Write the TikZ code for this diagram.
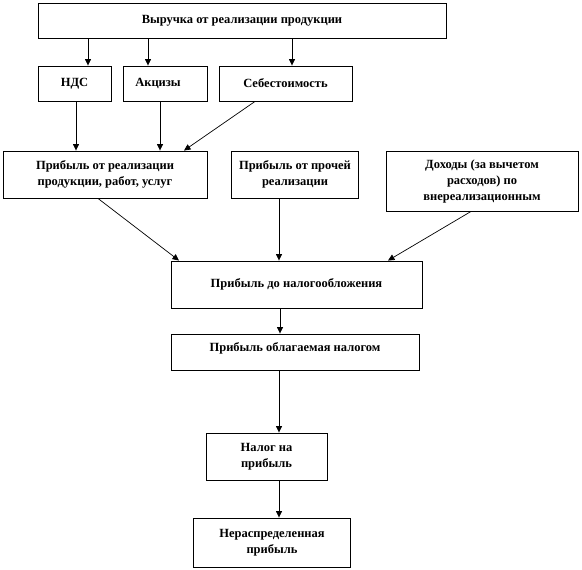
\documentclass[tikz,border=0pt]{standalone}
\usepackage{fontspec}
\setmainfont{Liberation Serif}
\usepackage{tikz}
\usetikzlibrary{positioning,calc,arrows.meta}

\begin{document}
\begin{tikzpicture}[x=1pt, y=-1pt,
  box/.style={rectangle, draw=black, line width=0.9pt, fill=white, inner sep=2pt, align=center, font=\bfseries\fontsize{12.5}{16}\selectfont},
  arrow/.style={-{Triangle[length=6.5pt,width=6pt]}, line width=0.7pt, color=black}
]
\useasboundingbox (0,0) rectangle (582,570);
\node[box, minimum width=408pt, minimum height=35pt] (rev) at (242,20.5) {Выручка от реализации продукции};
\node[box, minimum width=73pt, minimum height=35pt] (nds) at (74.5,83.5) {НДС};
\node[box, minimum width=84pt, minimum height=35pt] (akc) at (165,83.5) {\hspace*{-14pt}Акцизы};
\node[box, minimum width=133pt, minimum height=35pt] (seb) at (285.5,83.5) {Себестоимость};
\node[box, minimum width=204pt, minimum height=47pt] (pr1) at (105,174.5) {Прибыль от реализации\\продукции, работ, услуг};
\node[box, minimum width=127pt, minimum height=47pt] (pr2) at (295,174.5) {Прибыль от прочей\\реализации};
\node[box, minimum width=192pt, minimum height=60pt] (doh) at (482,181) {Доходы (за вычетом\\расходов) по\\внереализационным};
\node[box, minimum width=251pt, minimum height=47pt] (pre) at (296.5,284.5) {Прибыль до налогообложения};
\node[box, minimum width=248pt, minimum height=36pt, text depth=10pt] (tax) at (295,352) {Прибыль облагаемая налогом};
\node[box, minimum width=121pt, minimum height=47pt] (nal) at (266.5,456.5) {Налог на\\прибыль};
\node[box, minimum width=157pt, minimum height=49pt] (ner) at (272,542.5) {Нераспределенная\\прибыль};
% from revenue
\draw[arrow] ([xshift=13.5pt]nds.north |- rev.south) -- ([xshift=13.5pt]nds.north);
\draw[arrow] ([xshift=-17pt]akc.north |- rev.south) -- ([xshift=-17pt]akc.north);
\draw[arrow] ([xshift=6.5pt]seb.north |- rev.south) -- ([xshift=6.5pt]seb.north);
% into profit from sales
\draw[arrow] ([xshift=1.5pt]nds.south) -- ([xshift=1.5pt]nds.south |- pr1.north);
\draw[arrow] ([xshift=-5pt]akc.south) -- ([xshift=-5pt]akc.south |- pr1.north);
\draw[arrow] ([xshift=-30.5pt]seb.south) -- ([xshift=79pt]pr1.north);
% into profit before tax
\draw[arrow] ([xshift=-7pt]pr1.south) -- ([xshift=-117.5pt]pre.north);
\draw[arrow] ([xshift=-16pt]pr2.south) -- ([xshift=-16pt]pr2.south |- pre.north);
\draw[arrow] ([xshift=-11pt]doh.south) -- ([xshift=91.5pt]pre.north);
% down the chain
\draw[arrow] ([xshift=-16.5pt]pre.south) -- ([xshift=-16.5pt]pre.south |- tax.north);
\draw[arrow] ([xshift=-16pt]tax.south) -- ([xshift=-16pt]tax.south |- nal.north);
\draw[arrow] ([xshift=12.5pt]nal.south) -- ([xshift=12.5pt]nal.south |- ner.north);
\end{tikzpicture}
\end{document}
